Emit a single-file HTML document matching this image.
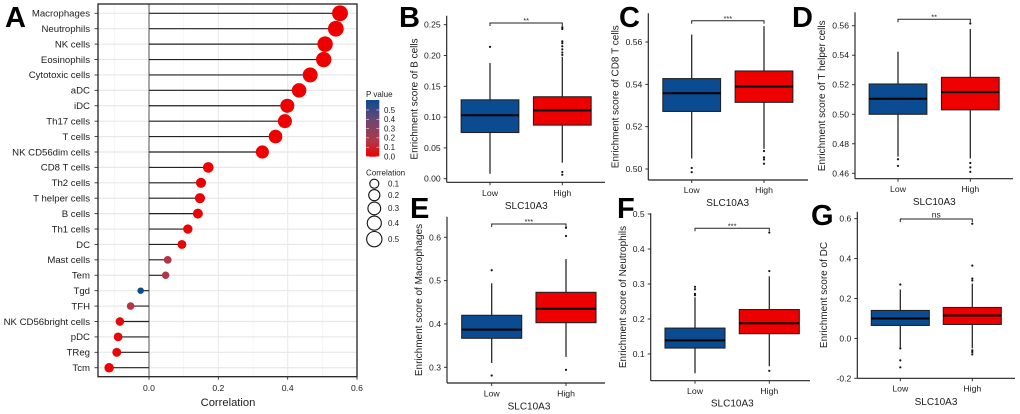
<!DOCTYPE html>
<html lang="en">
<head>
<meta charset="utf-8">
<title>SLC10A3 immune correlation chart</title>
<style>
html,body{margin:0;padding:0;background:#fff;width:1020px;height:414px;overflow:hidden}
svg{display:block;filter:blur(0.35px)}
text{font-family:"Liberation Sans",Arial,sans-serif;fill:#1c1c1c}
.panel-letter{font-weight:bold;font-size:29px;fill:#000}
</style>
</head>
<body>
<svg id="chart" xmlns="http://www.w3.org/2000/svg" width="1020" height="414" viewBox="0 0 1020 414">
  <defs>
    <linearGradient id="pGradient" x1="0" y1="1" x2="0" y2="0">
      <stop offset="0" stop-color="#ee0000"/>
      <stop offset="0.27" stop-color="#b03848"/>
      <stop offset="0.65" stop-color="#6c4674"/>
      <stop offset="1" stop-color="#0a4b91"/>
    </linearGradient>
  </defs>
  <text class="panel-letter" x="5" y="27">A</text>
  <text class="panel-letter" x="399" y="27">B</text>
  <text class="panel-letter" x="619" y="27">C</text>
  <text class="panel-letter" x="792" y="27">D</text>
  <text class="panel-letter" x="410" y="218">E</text>
  <text class="panel-letter" x="617" y="218">F</text>
  <text class="panel-letter" x="811" y="225">G</text>
</svg>
<script>
// Panel A data
const cellTypes = ['Macrophages','Neutrophils','NK cells','Eosinophils','Cytotoxic cells','aDC','iDC','Th17 cells','T cells','NK CD56dim cells','CD8 T cells','Th2 cells','T helper cells','B cells','Th1 cells','DC','Mast cells','Tem','Tgd','TFH','NK CD56bright cells','pDC','TReg','Tcm'];
const correlations = [0.551,0.539,0.508,0.504,0.465,0.433,0.399,0.392,0.365,0.327,0.171,0.150,0.147,0.141,0.112,0.095,0.054,0.048,-0.024,-0.053,-0.084,-0.089,-0.093,-0.115];
const pValues = [0,0,0,0,0,0,0,0,0,0,0.002,0.004,0.005,0.006,0.01,0.02,0.16,0.17,0.61,0.16,0.03,0.025,0.02,0.006];
const correlationTicks = [0,0.2,0.4,0.6];
const correlationMinorTicks = [-0.1,0.1,0.3,0.5];
const pLegendTicks = [0,0.1,0.2,0.3,0.4,0.5];
const sizeLegendValues = [0.1,0.2,0.3,0.4,0.5];

// Box panels: each box array is [lower whisker, q1, median, q3, upper whisker]
const boxGroups = ['Low','High'];
const bLowBox = [0.008,0.075,0.103,0.128,0.188];
const bHighBox = [0.026,0.087,0.111,0.133,0.198];
const bLowOutliers = [0.214];
const bHighOutliers = [0.0065,0.011,0.201,0.205,0.21,0.215,0.22,0.223,0.243,0.246];
const bTicks = [0,0.05,0.10,0.15,0.20,0.25];

const cLowBox = [0.505,0.5272,0.5358,0.5427,0.5635];
const cHighBox = [0.5095,0.5315,0.539,0.5463,0.5675];
const cLowOutliers = [0.4985,0.5005];
const cHighOutliers = [0.5025,0.5045,0.5055,0.5085];
const cTicks = [0.50,0.52,0.54,0.56];

const dLowBox = [0.4713,0.5,0.5105,0.5205,0.5424];
const dHighBox = [0.47,0.503,0.515,0.525,0.5578];
const dLowOutliers = [0.465,0.4695];
const dHighOutliers = [0.461,0.464,0.467,0.5615];
const dTicks = [0.46,0.48,0.50,0.52,0.54,0.56];

const eLowBox = [0.31,0.367,0.387,0.42,0.494];
const eHighBox = [0.324,0.403,0.435,0.473,0.55];
const eLowOutliers = [0.281,0.524];
const eHighOutliers = [0.294,0.603,0.622];
const eTicks = [0.3,0.4,0.5,0.6];

const fLowBox = [0.045,0.117,0.139,0.174,0.262];
const fHighBox = [0.065,0.158,0.188,0.227,0.322];
const fLowOutliers = [0.268,0.272,0.285,0.292];
const fHighOutliers = [0.052,0.337,0.447];
const fTicks = [0.1,0.2,0.3,0.4,0.5];

const gLowBox = [-0.045,0.065,0.1,0.14,0.245];
const gHighBox = [-0.05,0.07,0.115,0.155,0.275];
const gLowOutliers = [-0.05,-0.11,-0.145,0.27];
const gHighOutliers = [-0.06,-0.068,-0.08,0.29,0.30,0.365,0.575];
const gTicks = [-0.2,0,0.2,0.4,0.6];

const svg = document.getElementById('chart');
const NS = 'http://www.w3.org/2000/svg';

function add(parent, tag, attrs, name, content) {
  const el = document.createElementNS(NS, tag);
  for (const k in attrs) el.setAttribute(k, attrs[k]);
  
  
  if (content !== undefined) el.textContent = content;
  parent.appendChild(el);
  return el;
}
function group(name) {
  return add(svg, 'g', {}, name);
}
function linear(d0, d1, r0, r1) {
  return v => r0 + (v - d0) * (r1 - r0) / (d1 - d0);
}

/* ---------- Panel A ---------- */
const lolliX = linear(0, 0.6, 149, 357);
const lolliY = i => 13.3 + i * 15.41;
const lolliR = c => 2 + 8 * Math.sqrt(Math.abs(c));
const frame = {left: 98, right: 357, top: 4, bottom: 376.7};
function pColor(p) {
  const t = Math.min(1, p / 0.61);
  const a = t < 0.27 ? [238, 0, 0] : [176, 56, 72];
  const b = t < 0.27 ? [176, 56, 72] : [10, 75, 145];
  const u = t < 0.27 ? t / 0.27 : (t - 0.27) / 0.73;
  const mix = k => Math.round(a[k] + (b[k] - a[k]) * u);
  return 'rgb(' + mix(0) + ',' + mix(1) + ',' + mix(2) + ')';
}

const panelA = group('lollipop-panel');
correlationMinorTicks.forEach(t => {
  add(panelA, 'line', {x1: lolliX(t), x2: lolliX(t), y1: frame.top, y2: frame.bottom, stroke: '#f3f3f3', 'stroke-width': 0.8}, 'minor-gridline');
});
correlationTicks.forEach(t => {
  add(panelA, 'line', {x1: lolliX(t), x2: lolliX(t), y1: frame.top, y2: frame.bottom, stroke: '#ebebeb', 'stroke-width': 1.1}, 'major-gridline');
});
cellTypes.forEach((c, i) => {
  add(panelA, 'line', {x1: frame.left, x2: frame.right, y1: lolliY(i), y2: lolliY(i), stroke: '#e8e8e8', 'stroke-width': 1.2}, 'row-gridline');
});
add(panelA, 'line', {x1: lolliX(0), x2: lolliX(0), y1: frame.top, y2: frame.bottom, stroke: '#8c8c8c', 'stroke-width': 1.5}, 'zero-line');
cellTypes.forEach((c, i) => {
  const y = lolliY(i);
  add(panelA, 'line', {x1: lolliX(0), x2: lolliX(correlations[i]), y1: y, y2: y, stroke: '#222', 'stroke-width': 1.15}, 'lollipop-stem');
  add(panelA, 'circle', {cx: lolliX(correlations[i]), cy: y, r: lolliR(correlations[i]), fill: pColor(pValues[i])}, 'lollipop-dot');
  add(panelA, 'line', {x1: frame.left - 3.5, x2: frame.left, y1: y, y2: y, stroke: '#333', 'stroke-width': 0.9}, 'y-tick');
  add(panelA, 'text', {x: 90, y: y + 3.3, 'text-anchor': 'end', 'font-size': 9.6}, 'y-tick-label', c);
});
add(panelA, 'rect', {x: frame.left, y: frame.top, width: frame.right - frame.left, height: frame.bottom - frame.top, fill: 'none', stroke: '#222', 'stroke-width': 1.3}, 'plot-frame');
correlationTicks.forEach(t => {
  add(panelA, 'line', {x1: lolliX(t), x2: lolliX(t), y1: frame.bottom, y2: frame.bottom + 3, stroke: '#333', 'stroke-width': 0.9}, 'x-tick');
  add(panelA, 'text', {x: lolliX(t), y: 391, 'text-anchor': 'middle', 'font-size': 8.6}, 'x-tick-label', t.toFixed(1));
});
add(panelA, 'text', {x: 228, y: 406, 'text-anchor': 'middle', 'font-size': 11.2}, 'x-axis-title', 'Correlation');

/* ---------- Legends ---------- */
const legendP = group('p-value-legend');
const pLegendY = linear(0, 0.5, 156.5, 110);
add(legendP, 'text', {x: 366, y: 97, 'font-size': 8}, 'p-legend-title', 'P value');
add(legendP, 'rect', {x: 366, y: 100, width: 13.3, height: 56.7, fill: 'url(#pGradient)'}, 'p-colorbar');
pLegendTicks.forEach(t => {
  const y = pLegendY(t);
  add(legendP, 'line', {x1: 366, x2: 369, y1: y, y2: y, stroke: '#fff', 'stroke-width': 0.5}, 'p-tick-left');
  add(legendP, 'line', {x1: 376.3, x2: 379.3, y1: y, y2: y, stroke: '#fff', 'stroke-width': 0.5}, 'p-tick-right');
  add(legendP, 'text', {x: 384, y: y + 2.8, 'font-size': 8}, 'p-legend-label', t.toFixed(1));
});
const legendS = group('correlation-size-legend');
add(legendS, 'text', {x: 366, y: 175.5, 'font-size': 8}, 'size-legend-title', 'Correlation');
let legendCursor = 179.2;
sizeLegendValues.forEach(v => {
  const r = lolliR(v);
  const cy = legendCursor + r;
  add(legendS, 'circle', {cx: 374.3, cy: cy, r: r, fill: '#fff', stroke: '#111', 'stroke-width': 1.1}, 'size-legend-circle');
  add(legendS, 'text', {x: 388, y: cy + 2.8, 'font-size': 8}, 'size-legend-label', v.toFixed(1));
  legendCursor = cy + r + 1.3;
});

/* ---------- Box panels ---------- */
function boxPanel(cfg) {
  const g = group(cfg.name);
  const y = linear(cfg.ref[0], cfg.ref[1], cfg.refPx[0], cfg.refPx[1]);
  const xs = cfg.groupX;
  const hw = cfg.boxWidth / 2;
  const fills = ['#0a4b91', '#ee0000'];
  add(g, 'line', {x1: cfg.axisX, x2: cfg.axisX, y1: cfg.top, y2: cfg.bottom, stroke: '#222', 'stroke-width': 1.15}, 'y-axis-line');
  add(g, 'line', {x1: cfg.axisX, x2: cfg.right, y1: cfg.bottom, y2: cfg.bottom, stroke: '#222', 'stroke-width': 1.15}, 'x-axis-line');
  cfg.ticks.forEach(t => {
    add(g, 'line', {x1: cfg.axisX - 3, x2: cfg.axisX, y1: y(t), y2: y(t), stroke: '#222', 'stroke-width': 0.9}, 'y-tick');
    add(g, 'text', {x: cfg.axisX - 6, y: y(t) + 3, 'text-anchor': 'end', 'font-size': 8.6}, 'y-tick-label', t.toFixed(cfg.decimals));
  });
  add(g, 'text', {x: 0, y: 0, 'text-anchor': 'middle', 'font-size': 10, transform: 'translate(' + cfg.yTitleX + ',' + cfg.yTitleY + ') rotate(-90)'}, 'y-axis-title', cfg.yTitle);
  add(g, 'text', {x: cfg.xTitleX, y: cfg.xTitleBase, 'text-anchor': 'middle', 'font-size': 10}, 'x-axis-title', 'SLC10A3');
  boxGroups.forEach((label, i) => {
    const cx = xs[i];
    const b = cfg.boxes[i];
    add(g, 'line', {x1: cx, x2: cx, y1: cfg.bottom, y2: cfg.bottom + 3, stroke: '#222', 'stroke-width': 0.9}, 'x-tick');
    add(g, 'text', {x: cx, y: cfg.labelBase, 'text-anchor': 'middle', 'font-size': 8.7}, 'x-tick-label', label);
    add(g, 'line', {x1: cx, x2: cx, y1: y(b[0]), y2: y(b[4]), stroke: '#222', 'stroke-width': 1.25}, 'whisker-' + label.toLowerCase());
    add(g, 'rect', {x: cx - hw, y: y(b[3]), width: hw * 2, height: y(b[1]) - y(b[3]), fill: fills[i], stroke: '#222', 'stroke-width': 1.1}, 'box-' + label.toLowerCase());
    add(g, 'line', {x1: cx - hw, x2: cx + hw, y1: y(b[2]), y2: y(b[2]), stroke: '#000', 'stroke-width': 2}, 'median-' + label.toLowerCase());
    cfg.outliers[i].forEach(o => {
      add(g, 'circle', {cx: cx, cy: y(o), r: 1.1, fill: '#111'}, 'outlier-' + label.toLowerCase());
    });
  });
  const by = cfg.bracketY;
  add(g, 'path', {d: 'M' + xs[0] + ' ' + (by + 3) + 'V' + by + 'H' + xs[1] + 'V' + (by + 3), fill: 'none', stroke: '#222', 'stroke-width': 1}, 'significance-bracket');
  const isNs = cfg.sig === 'ns';
  add(g, 'text', {x: (xs[0] + xs[1]) / 2, y: isNs ? by - 1.5 : by + 0.2, 'text-anchor': 'middle', 'font-size': isNs ? 8.5 : 7.5}, 'significance-label', cfg.sig);
}

boxPanel({name: 'b-cells-boxplot', yTitle: 'Enrichment score of B cells', sig: '**',
  boxes: [bLowBox, bHighBox], outliers: [bLowOutliers, bHighOutliers], ticks: bTicks, decimals: 2,
  ref: [0, 0.25], refPx: [178.7, 24.7], axisX: 446.7, top: 15.7, bottom: 182.3, right: 605,
  groupX: [490, 562.3], boxWidth: 57.7, bracketY: 23,
  yTitleX: 417.5, yTitleY: 99, xTitleX: 526.3, xTitleBase: 209, labelBase: 196});
boxPanel({name: 'cd8-t-cells-boxplot', yTitle: 'Enrichment score of CD8 T cells', sig: '***',
  boxes: [cLowBox, cHighBox], outliers: [cLowOutliers, cHighOutliers], ticks: cTicks, decimals: 2,
  ref: [0.50, 0.56], refPx: [169, 42], axisX: 648.3, top: 13.3, bottom: 180, right: 808,
  groupX: [691.7, 764], boxWidth: 57.7, bracketY: 20.7,
  yTitleX: 618.5, yTitleY: 96.7, xTitleX: 727.7, xTitleBase: 206, labelBase: 193});
boxPanel({name: 't-helper-cells-boxplot', yTitle: 'Enrichment score of T helper cells', sig: '**',
  boxes: [dLowBox, dHighBox], outliers: [dLowOutliers, dHighOutliers], ticks: dTicks, decimals: 2,
  ref: [0.46, 0.56], refPx: [173.3, 25.7], axisX: 855, top: 12.3, bottom: 178.7, right: 1013,
  groupX: [898, 970.3], boxWidth: 57.7, bracketY: 19.3,
  yTitleX: 825.2, yTitleY: 95.8, xTitleX: 934.3, xTitleBase: 205, labelBase: 192});
boxPanel({name: 'macrophages-boxplot', yTitle: 'Enrichment score of Macrophages', sig: '***',
  boxes: [eLowBox, eHighBox], outliers: [eLowOutliers, eHighOutliers], ticks: eTicks, decimals: 1,
  ref: [0.3, 0.6], refPx: [367.3, 237.3], axisX: 447, top: 216.7, bottom: 383, right: 605,
  groupX: [491.7, 566], boxWidth: 60, bracketY: 224,
  yTitleX: 421.8, yTitleY: 300, xTitleX: 529, xTitleBase: 409.3, labelBase: 396.7});
boxPanel({name: 'neutrophils-boxplot', yTitle: 'Enrichment score of Neutrophils', sig: '***',
  boxes: [fLowBox, fHighBox], outliers: [fLowOutliers, fHighOutliers], ticks: fTicks, decimals: 1,
  ref: [0.1, 0.5], refPx: [354, 214], axisX: 650.7, top: 213.3, bottom: 380.7, right: 810,
  groupX: [695, 769.3], boxWidth: 60, bracketY: 228.3,
  yTitleX: 625.8, yTitleY: 297, xTitleX: 732.3, xTitleBase: 406.7, labelBase: 394});
boxPanel({name: 'dc-boxplot', yTitle: 'Enrichment score of DC', sig: 'ns',
  boxes: [gLowBox, gHighBox], outliers: [gLowOutliers, gHighOutliers], ticks: gTicks, decimals: 1,
  ref: [-0.2, 0.6], refPx: [378.3, 218.7], axisX: 857.3, top: 211.7, bottom: 378.3, right: 1015,
  groupX: [900.3, 972.3], boxWidth: 58, bracketY: 219,
  yTitleX: 826.8, yTitleY: 295, xTitleX: 936, xTitleBase: 405, labelBase: 391.7});
</script>
</body>
</html>
